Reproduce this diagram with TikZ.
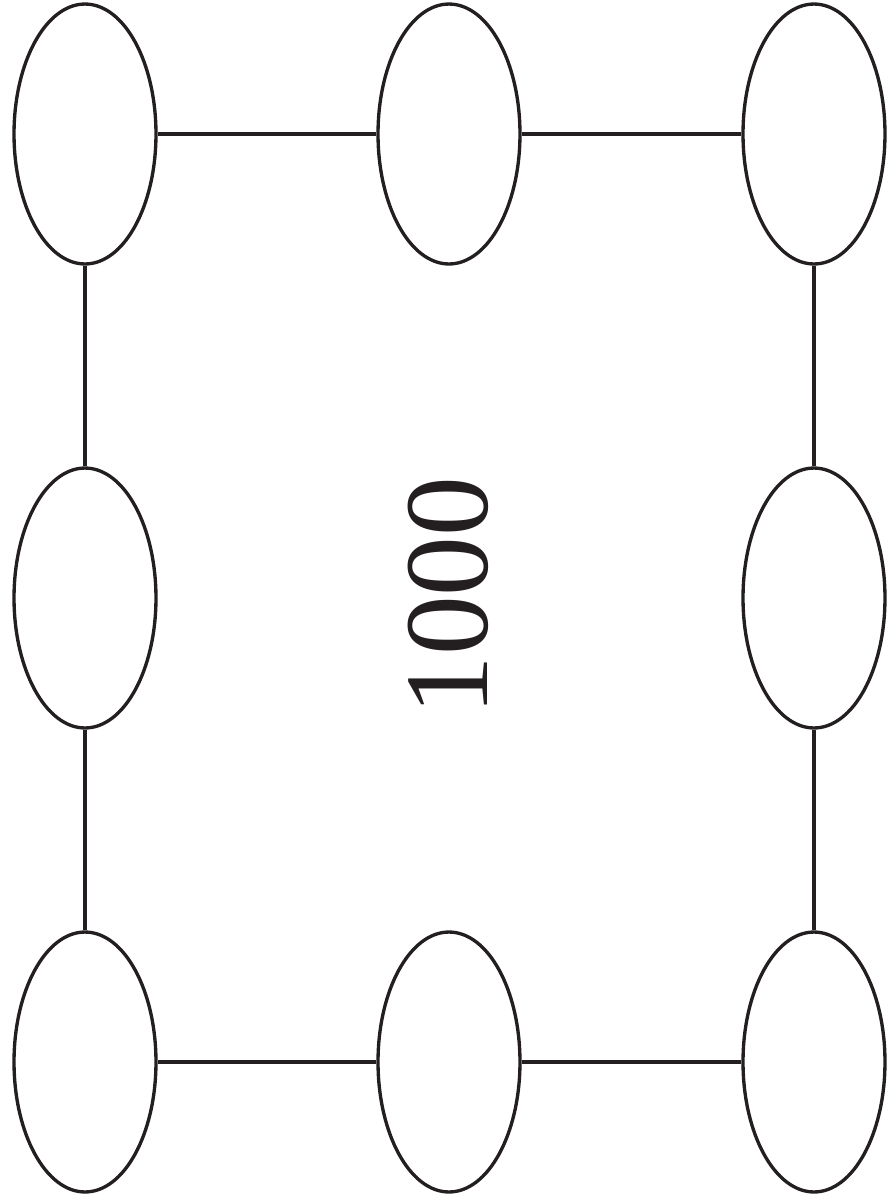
\documentclass[tikz,border=0pt]{standalone}
\usepackage{fontspec}
\setmainfont{Liberation Serif}
\newfontfamily\numfont{Liberation Serif}
\usetikzlibrary{shapes.geometric}
\definecolor{ink}{RGB}{35,31,32}

\begin{document}
\begin{tikzpicture}[x=0.02cm,y=-0.02cm,
    pad/.style={ellipse,draw=ink,line width=1.9pt,minimum width=2.84cm,minimum height=5.2cm,inner sep=0pt},
    link/.style={draw=ink,line width=1.9pt}]
    \useasboundingbox (0,0) rectangle (895,1198);
    \node[pad] (tl) at (85,134) {};
    \node[pad] (tm) at (449,134) {};
    \node[pad] (tr) at (814,134) {};
    \node[pad] (ml) at (85,598) {};
    \node[pad] (mr) at (814,598) {};
    \node[pad] (bl) at (85,1062) {};
    \node[pad] (bm) at (449,1062) {};
    \node[pad] (br) at (814,1062) {};
    \node[rotate=90,text=ink,font=\numfont\fontsize{68}{68}\selectfont] (len) at (448,596) {1000};
    \draw[link] (tl) -- (tm) (tm) -- (tr) (tr) -- (mr) (mr) -- (br);
    \draw[link] (br) -- (bm) (bm) -- (bl) (bl) -- (ml) (ml) -- (tl);
  \end{tikzpicture}
\end{document}
